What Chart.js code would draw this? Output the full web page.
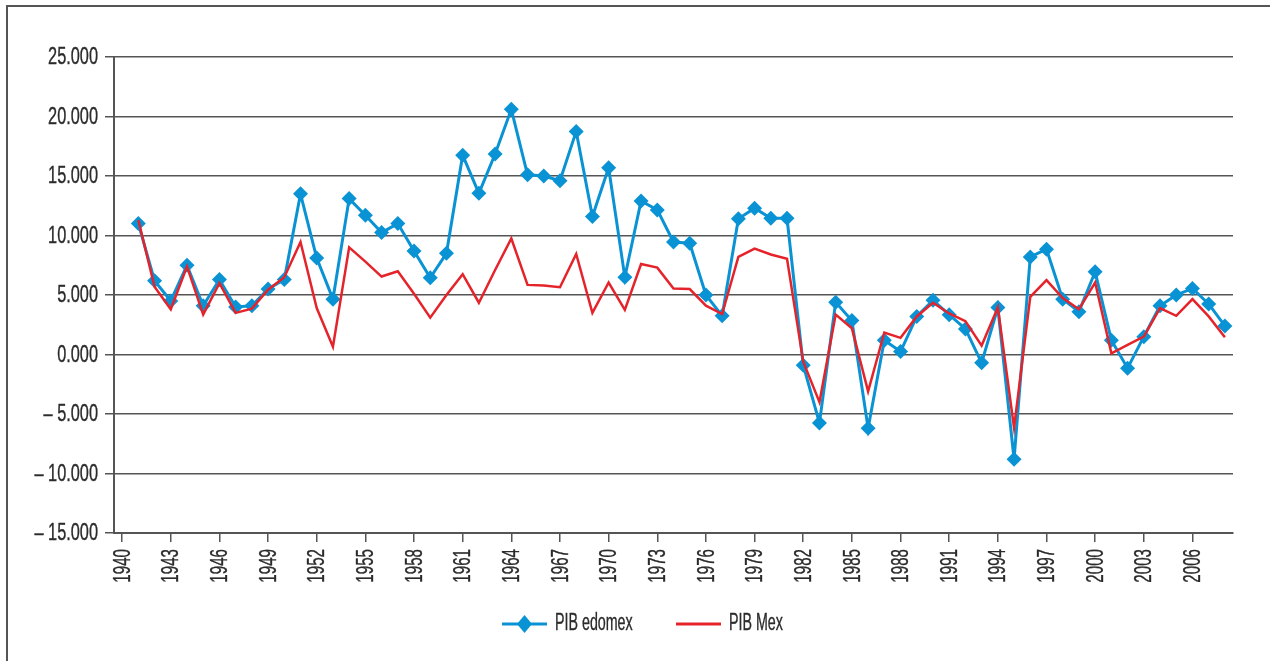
<!DOCTYPE html>
<html>
<head>
<meta charset="utf-8">
<script src="https://cdn.jsdelivr.net/npm/chart.js@4/dist/chart.umd.min.js"></script>
<style>
  html, body { margin: 0; padding: 0; background: #fff; }
  #wrap { position: relative; width: 1270px; height: 661px; }
  canvas { display: block; }
</style>
</head>
<body>
<div id="wrap"><canvas id="c" width="1270" height="661"></canvas></div>
<script>
// Years on the category axis
const years = [];
for (let y = 1940; y <= 2008; y++) years.push(String(y));

// Annual GDP growth, State of Mexico (edomex), 1940-2008
const pibEdomex = [
  null, 11.0, 6.2, 4.5, 7.5, 4.1, 6.3, 4.0, 4.1, 5.5,
  6.3, 13.5, 8.1, 4.65, 13.1, 11.7, 10.25, 11.0, 8.7, 6.45,
  8.5, 16.75, 13.55, 16.85, 20.6, 15.1, 15.0, 14.6, 18.75, 11.6,
  15.7, 6.5, 12.9, 12.15, 9.45, 9.35, 5.0, 3.25, 11.4, 12.3,
  11.45, 11.45, -0.9, -5.75, 4.4, 2.85, -6.2, 1.2, 0.25, 3.2,
  4.55, 3.35, 2.15, -0.7, 3.95, -8.8, 8.2, 8.85, 4.65, 3.6,
  6.95, 1.2, -1.15, 1.5, 4.1, 5.0, 5.55, 4.25, 2.4
];

// Annual GDP growth, Mexico, 1940-2008
const pibMex = [
  null, 11.3, 5.7, 3.8, 7.4, 3.35, 6.0, 3.5, 3.85, 5.45,
  6.5, 9.45, 3.9, 0.65, 9.0, 7.8, 6.55, 7.0, 5.1, 3.1,
  5.0, 6.75, 4.35, 7.1, 9.75, 5.85, 5.8, 5.65, 8.45, 3.5,
  6.05, 3.75, 7.6, 7.3, 5.55, 5.5, 4.1, 3.4, 8.2, 8.9,
  8.4, 8.05, -0.6, -4.0, 3.35, 2.2, -3.1, 1.85, 1.4, 3.2,
  4.35, 3.45, 2.8, 0.75, 3.95, -6.15, 4.85, 6.25, 4.75, 3.8,
  6.05, 0.1, 0.8, 1.5, 3.9, 3.25, 4.65, 3.2, 1.45
];

// Series names for the legend
const seriesNames = ['PIB edomex', 'PIB Mex'];

// Value axis range and step
const yMin = -15, yMax = 25, yStep = 5;

const BLUE = '#0a93d4';
const RED = '#e5232b';
const INK = '#2b2b2b';
const GRID = '#555555';
const FONT_FAMILY = "'Liberation Sans', Arial, sans-serif";

function fmt(v) {
  const s = Math.abs(v).toFixed(3);
  return v < 0 ? '\u2013 ' + s : s;
}

// Draws text squeezed horizontally to imitate a condensed face
function condensedText(ctx, text, x, y, size, squeeze, align, rotate) {
  ctx.save();
  ctx.translate(x, y);
  if (rotate) ctx.rotate(rotate);
  ctx.scale(squeeze, 1);
  ctx.font = size + 'px ' + FONT_FAMILY;
  ctx.fillStyle = INK;
  ctx.strokeStyle = INK;
  ctx.lineWidth = 0.35;
  ctx.textAlign = align;
  ctx.textBaseline = 'middle';
  ctx.fillText(text, 0, 0);
  ctx.strokeText(text, 0, 0);
  ctx.restore();
}

// Frame, tick labels and legend
const decorPlugin = {
  id: 'decor',
  beforeDraw(chart) {
    const ctx = chart.ctx;
    ctx.save();
    ctx.fillStyle = '#fff';
    ctx.fillRect(0, 0, chart.width, chart.height);
    ctx.strokeStyle = '#555';
    ctx.lineWidth = 2;
    ctx.strokeRect(7, 6, 1400, 800);
    ctx.restore();
  },
  afterDraw(chart) {
    const ctx = chart.ctx;
    const xs = chart.scales.x, ys = chart.scales.y;

    // value axis labels
    ys.ticks.forEach(t => {
      condensedText(ctx, fmt(t.value), ys.right - 16, ys.getPixelForValue(t.value) + 1, 23, 0.71, 'right');
    });

    // year labels, rotated
    xs.ticks.forEach((t, i) => {
      const x = xs.getPixelForTick(i);
      condensedText(ctx, years[t.value], x + 1, xs.top + 16, 24, 0.63, 'right', -Math.PI / 2);
    });

    // legend
    const ly = 624;
    let x = 502;
    ctx.save();
    ctx.strokeStyle = BLUE; ctx.lineWidth = 3;
    ctx.beginPath(); ctx.moveTo(x, ly); ctx.lineTo(x + 45, ly); ctx.stroke();
    ctx.fillStyle = BLUE;
    ctx.beginPath();
    ctx.moveTo(x + 22.5, ly - 9); ctx.lineTo(x + 30, ly); ctx.lineTo(x + 22.5, ly + 9); ctx.lineTo(x + 15, ly);
    ctx.closePath(); ctx.fill();
    ctx.restore();
    condensedText(ctx, seriesNames[0], x + 53, ly, 23, 0.62, 'left');

    x = 676;
    ctx.save();
    ctx.strokeStyle = RED; ctx.lineWidth = 3;
    ctx.beginPath(); ctx.moveTo(x, ly); ctx.lineTo(x + 45, ly); ctx.stroke();
    ctx.restore();
    condensedText(ctx, seriesNames[1], x + 53, ly, 23, 0.62, 'left');
  }
};

new Chart(document.getElementById('c'), {
  type: 'line',
  data: {
    labels: years,
    datasets: [
      {
        label: seriesNames[0],
        data: pibEdomex,
        borderColor: BLUE,
        backgroundColor: BLUE,
        borderWidth: 3,
        tension: 0,
        pointStyle: 'rectRot',
        pointRadius: 7.5,
        pointBorderWidth: 0,
        pointBackgroundColor: BLUE,
        order: 1
      },
      {
        label: seriesNames[1],
        data: pibMex,
        borderColor: RED,
        backgroundColor: RED,
        borderWidth: 2.5,
        tension: 0,
        pointRadius: 0,
        order: 0
      }
    ]
  },
  options: {
    responsive: false,
    animation: false,
    events: [],
    layout: { padding: { left: 0, right: 37, top: 57, bottom: 57 } },
    plugins: {
      tooltip: { enabled: false },
      legend: { display: false }
    },
    scales: {
      x: {
        type: 'category',
        offset: true,
        grid: {
          offset: false,
          drawOnChartArea: false,
          drawTicks: true,
          tickLength: 9,
          color: GRID,
          lineWidth: 1.5
        },
        border: { display: true, color: GRID, width: 2 },
        afterBuildTicks(scale) {
          scale.ticks = scale.ticks.filter(t => (Number(years[t.value]) - 1940) % 3 === 0);
        },
        afterFit(scale) { scale.height = 71; },
        ticks: { display: false, autoSkip: false }
      },
      y: {
        min: yMin,
        max: yMax,
        grid: {
          color: GRID,
          lineWidth: 1.5,
          tickLength: 9,
          drawTicks: true
        },
        border: { display: true, color: GRID, width: 2 },
        afterFit(scale) { scale.width = 114; },
        ticks: { display: false, stepSize: yStep }
      }
    }
  },
  plugins: [decorPlugin]
});
</script>
</body>
</html>
